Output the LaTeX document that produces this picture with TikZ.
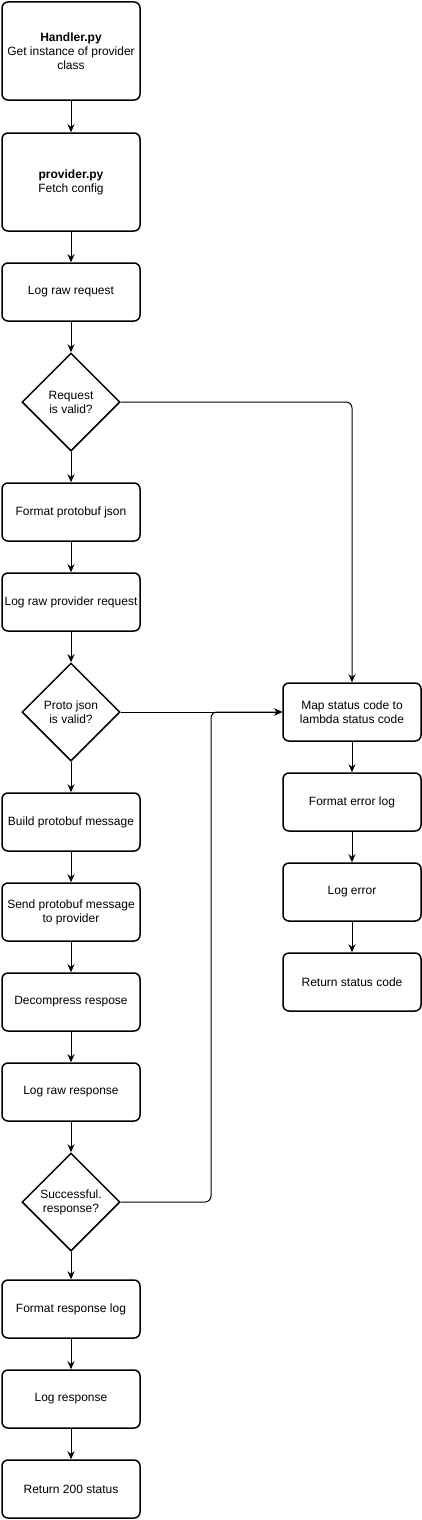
\documentclass[tikz,border=0pt]{standalone}
\usepackage{fontspec}
\setmainfont{Liberation Sans}
\usepackage{tikz}
\usetikzlibrary{shapes.geometric,arrows.meta}
\tikzset{%
    block/.style={%
        draw, line width=1.5pt, rounded corners=6pt, align=center,
        minimum width=138pt, minimum height=#1, inner sep=2pt,
        font=\fontsize{12}{14}\selectfont
    },
    block/.default=58pt,
    decision/.style={%
        draw, diamond, aspect=1, line width=1.5pt, minimum size=98pt,
        inner sep=0pt, align=center, font=\fontsize{12}{14}\selectfont
    },
    link/.style={-{Stealth[length=8pt,width=7pt]}, line width=1pt}
}

\begin{document}
\begin{tikzpicture}[x=1pt,y=-1pt]
    \useasboundingbox (0,0) rectangle (422,1520);
    % main column
    \node[block=98pt] (handler) at (71,51) {\textbf{Handler.py}\\Get instance of provider\\class};
    \node[block=98pt] (provider) at (71,182) {\textbf{provider.py}\\Fetch config};
    \node[block] (lograw) at (71,292) {Log raw request};
    \node[decision] (reqvalid) at (71,402) {Request\\is valid?};
    \node[block] (fmtjson) at (71,512) {Format protobuf json};
    \node[block] (logprov) at (71,602) {Log raw provider request};
    \node[decision] (jsonvalid) at (71,712) {Proto json\\is valid?};
    \node[block] (buildmsg) at (71,822) {Build protobuf message};
    \node[block] (sendmsg) at (71,912) {Send protobuf message\\to provider};
    \node[block] (decomp) at (71,1002) {Decompress respose};
    \node[block] (logresp) at (71,1092) {Log raw response};
    \node[decision] (success) at (71,1202) {Successful.\\response?};
    \node[block] (fmtresp) at (71,1309) {Format response log};
    \node[block] (logok) at (71,1399) {Log response};
    \node[block] (ret200) at (71,1489) {Return 200 status};
    % error column
    \node[block] (mapcode) at (352,712) {Map status code to\\lambda status code};
    \node[block] (fmterr) at (352,802) {Format error log};
    \node[block] (logerr) at (352,892) {Log error};
    \node[block] (retcode) at (352,982) {Return status code};

    \foreach \a/\b in {handler/provider, provider/lograw, lograw/reqvalid,
        reqvalid/fmtjson, fmtjson/logprov, logprov/jsonvalid, jsonvalid/buildmsg,
        buildmsg/sendmsg, sendmsg/decomp, decomp/logresp, logresp/success,
        success/fmtresp, fmtresp/logok, logok/ret200,
        mapcode/fmterr, fmterr/logerr, logerr/retcode}
    {
    \draw[link] (\a) -- (\b);
    }

    \coordinate (bend) at (211,1202);
    \draw[link, rounded corners=6pt] (reqvalid.east) -| (mapcode.north);
    \draw[link] (jsonvalid.east) -- (mapcode.west);
    \draw[link, rounded corners=6pt] (success.east) -- (bend) |- (mapcode.west);
\end{tikzpicture}
\end{document}
